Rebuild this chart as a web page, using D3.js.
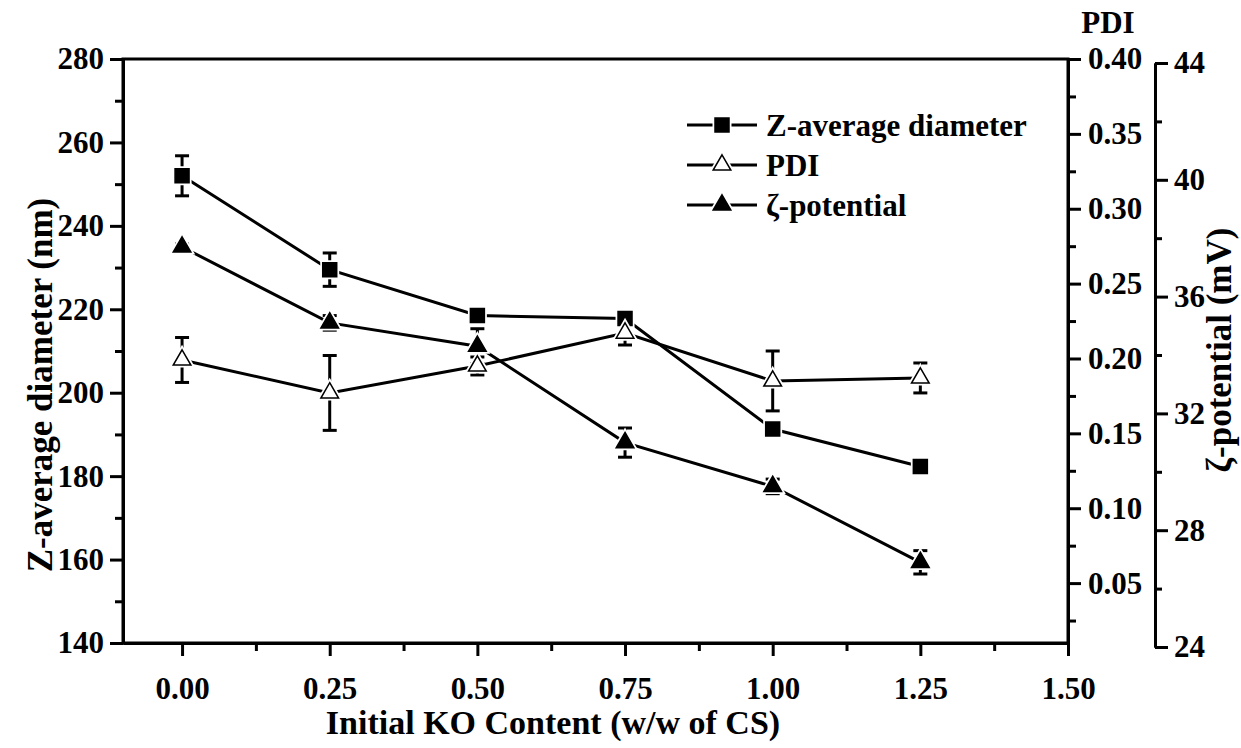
<!DOCTYPE html>
<html>
<head>
<meta charset="utf-8">
<script src="https://cdn.jsdelivr.net/npm/d3@7"></script>
<style>
  body { margin: 0; background: #fff; }
  text { font-family: "Liberation Serif", "Times New Roman", serif; font-weight: bold; fill: #000; }
</style>
</head>
<body>
<div id="container"></div>
<script>
// data
var koContent = [0, 0.25, 0.5, 0.75, 1.0, 1.25];
var zAverage = [252, 229.5, 218.5, 217.8, 191.3, 182.3];
var zAverageErr = [4.8, 4.0, 1.0, 1.5, 1.2, 1.0];
var pdi = [0.199, 0.177, 0.195, 0.217, 0.185, 0.187];
var pdiErr = [0.015, 0.025, 0.006, 0.008, 0.02, 0.01];
var zeta = [37.7, 35.1, 34.3, 31.0, 29.5, 26.9];
var zetaErr = [0.1, 0.25, 0.6, 0.5, 0.25, 0.4];

var xTicks = [0, 0.25, 0.5, 0.75, 1.0, 1.25, 1.5];
var zTicks = [140, 160, 180, 200, 220, 240, 260, 280];
var pdiTicks = [0.05, 0.10, 0.15, 0.20, 0.25, 0.30, 0.35, 0.40];
var zetaTicks = [24, 28, 32, 36, 40, 44];
var legendNames = ["Z-average diameter", "PDI", "\u03B6-potential"];

var w = 1241, h = 748;
// plot frame (window.top is reserved, so use other names)
var frameL = 123, frameR = 1068, frameT = 59, frameB = 643;

var svg = d3.select("div#container")
    .append("svg")
    .attr("width", w)
    .attr("height", h);

var x = d3.scaleLinear().domain([-0.1, 1.5]).range([frameL, frameR]);
var yZ = d3.scaleLinear().domain([140, 280]).range([frameB, frameT]);
var yP = d3.scaleLinear().domain([0.01, 0.40]).range([frameB, frameT]);
var yZeta = d3.scaleLinear().domain([24, 44]).range([647, 63]);

function styleAxis(g) {
    g.selectAll("path.domain").attr("stroke", "#000").attr("stroke-width", 3);
    g.selectAll(".tick line").attr("stroke", "#000").attr("stroke-width", 3);
    g.selectAll("text").style("font-size", "31px").attr("fill", "#000");
}

// minor ticks sit halfway between majors
function minors(major) {
    var m = [];
    for (var i = 0; i < major.length - 1; i++) m.push((major[i] + major[i + 1]) / 2);
    return m;
}

// frame
svg.append("rect")
   .attr("x", frameL).attr("y", frameT)
   .attr("width", frameR - frameL).attr("height", frameB - frameT)
   .attr("fill", "none").attr("stroke", "#000").attr("stroke-width", 3);

// bottom axis
var gx = svg.append("g").attr("transform", "translate(0," + frameB + ")");
gx.call(d3.axisBottom(x).tickValues(xTicks).tickSize(13).tickSizeOuter(0).tickPadding(21)
        .tickFormat(d3.format(".2f")));
svg.append("g").attr("transform", "translate(0," + frameB + ")")
   .call(d3.axisBottom(x).tickValues(minors(xTicks)).tickSize(8).tickSizeOuter(0).tickFormat(""))
   .call(styleAxis);
styleAxis(gx);

// left axis
var gl = svg.append("g").attr("transform", "translate(" + frameL + ",0)");
gl.call(d3.axisLeft(yZ).tickValues(zTicks).tickSize(13).tickSizeOuter(0).tickPadding(6));
svg.append("g").attr("transform", "translate(" + frameL + ",0)")
   .call(d3.axisLeft(yZ).tickValues(minors(zTicks)).tickSize(8).tickSizeOuter(0).tickFormat(""))
   .call(styleAxis);
styleAxis(gl);

// PDI axis on the right frame
var gp = svg.append("g").attr("transform", "translate(" + frameR + ",0)");
gp.call(d3.axisRight(yP).tickValues(pdiTicks).tickSize(13).tickSizeOuter(0).tickPadding(7)
        .tickFormat(d3.format(".2f")));
svg.append("g").attr("transform", "translate(" + frameR + ",0)")
   .call(d3.axisRight(yP).tickValues([0.025].concat(minors(pdiTicks))).tickSize(8).tickSizeOuter(0).tickFormat(""))
   .call(styleAxis);
styleAxis(gp);

// zeta axis, offset to the right
var zx = 1155;
var gz = svg.append("g").attr("transform", "translate(" + zx + ",0)");
gz.call(d3.axisRight(yZeta).tickValues(zetaTicks).tickSize(13).tickSizeOuter(0).tickPadding(6));
svg.append("g").attr("transform", "translate(" + zx + ",0)")
   .call(d3.axisRight(yZeta).tickValues(minors(zetaTicks)).tickSize(7).tickSizeOuter(0).tickFormat(""))
   .call(styleAxis);
styleAxis(gz);

// axis titles
svg.append("text")
   .attr("transform", "translate(40,385) rotate(-90)")
   .attr("text-anchor", "middle").attr("dominant-baseline", "central")
   .style("font-size", "35px")
   .text("Z-average diameter (nm)");
svg.append("text")
   .attr("x", 553).attr("y", 734)
   .attr("text-anchor", "middle")
   .style("font-size", "34px")
   .text("Initial KO Content (w/w of CS)");
svg.append("text")
   .attr("transform", "translate(1219,350) rotate(-90)")
   .attr("text-anchor", "middle").attr("dominant-baseline", "central")
   .style("font-size", "35px")
   .text("\u03B6-potential (mV)");
svg.append("text")
   .attr("x", 1108).attr("y", 33)
   .attr("text-anchor", "middle")
   .style("font-size", "31px")
   .text("PDI");

var series = [
    {vals: zAverage, err: zAverageErr, y: yZ, sym: d3.symbolSquare, size: 196, fill: "#000"},
    {vals: pdi, err: pdiErr, y: yP, sym: d3.symbolTriangle, size: 135, fill: "#fff"},
    {vals: zeta, err: zetaErr, y: yZeta, sym: d3.symbolTriangle, size: 135, fill: "#000"}
];

var plot = svg.append("g");
series.forEach(function(s) {
    var pts = koContent.map(function(k, i) { return {x: k, v: s.vals[i], e: s.err[i]}; });
    var line = d3.line().x(function(d) { return x(d.x); }).y(function(d) { return s.y(d.v); });
    plot.append("path").datum(pts)
        .attr("d", line).attr("fill", "none").attr("stroke", "#000").attr("stroke-width", 3);
});

// error bars then markers
series.forEach(function(s) {
    var pts = koContent.map(function(k, i) { return {x: k, v: s.vals[i], e: s.err[i]}; });
    var eb = plot.append("g").selectAll("g").data(pts).enter().append("g");
    eb.append("line")
      .attr("x1", function(d) { return x(d.x); }).attr("x2", function(d) { return x(d.x); })
      .attr("y1", function(d) { return s.y(d.v - d.e); }).attr("y2", function(d) { return s.y(d.v + d.e); })
      .attr("stroke", "#000").attr("stroke-width", 3);
    [-1, 1].forEach(function(sign) {
        eb.append("line")
          .attr("x1", function(d) { return x(d.x) - 7; }).attr("x2", function(d) { return x(d.x) + 7; })
          .attr("y1", function(d) { return s.y(d.v + sign * d.e); }).attr("y2", function(d) { return s.y(d.v + sign * d.e); })
          .attr("stroke", "#000").attr("stroke-width", 3);
    });
});

// markers with a thin white halo so the lines stop short of them
series.forEach(function(s) {
    var pts = koContent.map(function(k, i) { return {x: k, v: s.vals[i]}; });
    var mk = plot.append("g").selectAll("g").data(pts).enter().append("g")
        .attr("transform", function(d) { return "translate(" + x(d.x) + "," + s.y(d.v) + ")"; });
    mk.append("path").attr("d", d3.symbol().type(s.sym).size(s.size))
        .attr("fill", "#fff").attr("stroke", "#fff").attr("stroke-width", 5);
    mk.append("path").attr("d", d3.symbol().type(s.sym).size(s.size))
        .attr("fill", s.fill).attr("stroke", "#000").attr("stroke-width", 1.5);
});

// legend
var legend = svg.append("g");
var legendY = [125, 165, 205];
series.forEach(function(s, i) {
    var row = legend.append("g").attr("transform", "translate(0," + legendY[i] + ")");
    row.append("line").attr("x1", 687).attr("x2", 757).attr("y1", 0).attr("y2", 0)
       .attr("stroke", "#000").attr("stroke-width", 3);
    row.append("path").attr("d", d3.symbol().type(s.sym).size(s.size))
       .attr("transform", "translate(722,0)")
       .attr("fill", "#fff").attr("stroke", "#fff").attr("stroke-width", 5);
    row.append("path").attr("d", d3.symbol().type(s.sym).size(s.size))
       .attr("transform", "translate(722,0)")
       .attr("fill", s.fill).attr("stroke", "#000").attr("stroke-width", 1.5);
    row.append("text").attr("x", 766).attr("y", 0).attr("dominant-baseline", "central")
       .style("font-size", "31px").text(legendNames[i]);
});
</script>
</body>
</html>
